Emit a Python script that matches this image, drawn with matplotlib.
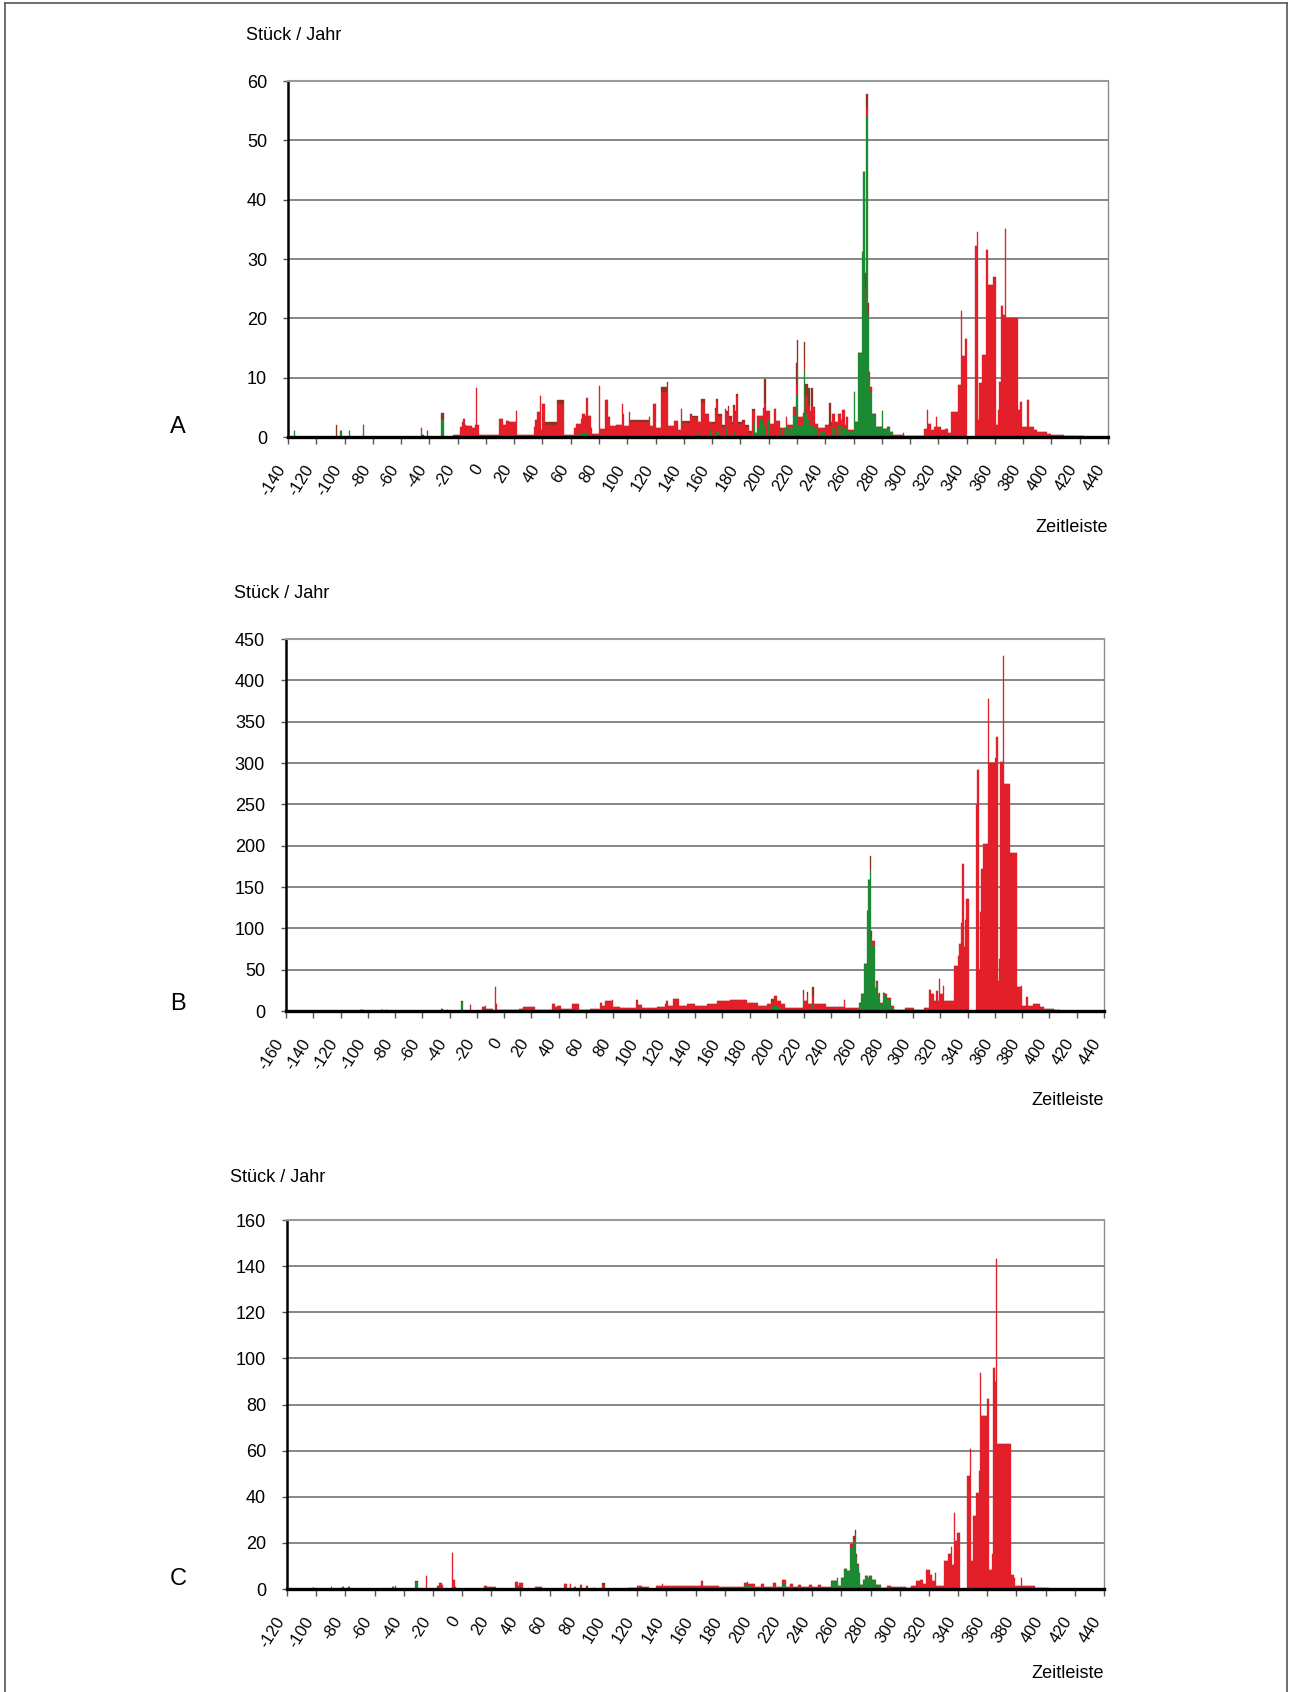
import numpy as np
import matplotlib
matplotlib.use('Agg')
import matplotlib.pyplot as plt
from matplotlib.transforms import ScaledTranslation
from matplotlib.lines import Line2D

plt.rcParams['font.family'] = ['Liberation Sans', 'DejaVu Sans']

# ---------------- data (year_start, year_end_exclusive, value) ----------------
# total height of stacked bar, green part (bottom), dark-red cap (top); red = rest
A_total = [(-136,-135,1),(-106,-105,2),(-103,-102,1),(-97,-96,1),(-87,-86,2),(-46,-45,1.5),(-45,-44,0.4),
 (-42,-41,1),(-32,-30,4),(-23,-18,0.3),(-18,-17,1.7),(-17,-16,2.5),(-16,-15,3.0),(-15,-14,2.1),(-14,-10,1.9),
 (-10,-8,1.5),(-8,-7,2.1),(-7,-6,8.2),(-6,-5,2.1),(-5,9,0.3),(9,12,3.0),(12,14,2.1),(14,16,2.7),(16,21,2.5),
 (21,22,4.3),(22,34,0.4),(34,35,1.7),(35,36,2.8),(36,38,4.2),(38,39,6.9),(39,40,1.1),(40,42,5.6),(42,50,2.6),
 (50,55,6.3),(55,62,0.3),(62,64,1.6),(64,67,2.2),(67,68,3.0),(68,70,3.9),(70,71,3.6),(71,72,6.5),(72,74,3.6),
 (74,75,1.6),(75,80,0.5),(80,81,8.6),(81,84,1.3),(84,86,6.2),(86,88,3.3),(88,92,1.9),(92,96,2.0),(96,97,5.5),
 (97,98,3.9),(98,101,1.9),(101,102,4.2),(102,115,2.8),(115,116,3.3),(116,118,1.9),(118,120,5.6),(120,124,1.6),
 (124,128,8.5),(128,129,9.3),(129,133,1.9),(133,136,2.7),(136,138,1.2),(138,139,4.7),(139,144,2.7),(144,146,3.9),
 (146,150,3.6),(150,152,2.5),(152,155,6.4),(155,158,3.9),(158,162,2.5),(162,163,4.9),(163,164,6.4),(164,167,3.9),
 (167,169,2.0),(169,170,4.7),(170,171,4.4),(171,172,5.3),(172,174,3.6),(174,175,2.5),(175,176,5.4),(176,177,4.4),
 (177,178,7.3),(178,181,2.5),(181,183,2.9),(183,186,2.0),(186,188,1.0),(188,190,4.7),(190,192,0.7),(192,196,3.5),
 (196,197,4.9),(197,198,9.8),(198,201,4.4),(201,204,2.2),(204,205,4.7),(205,208,2.7),(208,212,1.5),(212,213,3.4),
 (213,217,2.0),(217,219,5.0),(219,220,12.4),(220,221,16.4),(221,224,3.3),(224,225,4.0),(225,226,16.0),(226,228,9.0),
 (228,229,8.3),(229,230,4.4),(230,231,8.3),(231,233,5.1),(233,235,2.2),(235,240,1.6),(240,243,2.0),(243,244,5.8),
 (244,245,2.5),(245,247,3.9),(247,249,2.5),(249,251,3.9),(251,252,2.8),(252,254,4.5),(254,255,2.0),(255,256,3.4),
 (256,260,1.2),(260,261,7.6),(261,263,2.5),(263,266,14.2),(266,267,31.2),(267,268,44.6),(268,269,27.6),
 (269,270,57.8),(270,271,22.5),(271,272,11.0),(272,273,8.4),(273,276,3.9),(276,280,1.7),(280,281,4.3),
 (281,284,1.4),(284,286,1.7),(286,288,0.8),(288,295,0.3),(295,296,0.6),(296,310,0.2),(310,312,1.4),(312,313,4.5),
 (313,315,2.2),(315,317,1.1),(317,318,1.7),(318,319,3.4),(319,322,1.7),(322,325,1.1),(325,327,1.4),(327,329,0.6),
 (329,334,4.2),(334,336,8.7),(336,337,21.3),(337,339,13.6),(339,340,16.6),(346,347,32.2),(347,348,34.6),
 (348,349,2.8),(349,351,9.1),(351,354,13.8),(354,355,31.5),(355,359,25.6),(359,361,26.9),(361,362,2.0),
 (362,363,4.6),(363,364,9.3),(364,366,22.1),(366,367,20.6),(367,368,35.0),(368,376,20.0),(376,378,4.6),
 (378,379,5.9),(379,383,1.7),(383,384,6.2),(384,388,1.7),(388,390,1.1),(390,397,0.85),(397,400,0.56),
 (400,409,0.4),(409,423,0.2)]
A_green = [(-136,-135,1),(-103,-102,1),(-97,-96,1),(-87,-86,2),(-46,-45,1),(-42,-41,1),(-32,-30,3),
 (-15,-14,0.4),(65,70,0.6),(70,72,1.0),(102,116,0.25),(150,151,1),(158,160,1.2),(163,165,1),(170,171,1.5),
 (175,176,1),(189,191,2.5),(191,193,1.5),(193,196,3.0),(196,198,2),(199,201,3),(208,209,2),(211,213,2),
 (214,217,1.5),(217,219,3.5),(219,220,7),(220,221,11.3),(221,224,2.0),(224,225,3),(225,226,11.3),(226,228,4),
 (228,229,3),(229,232,2),(232,234,1.5),(236,240,1),(245,247,1.5),(249,251,2),(252,256,1.5),(256,259,1),
 (259,260,1),(260,261,7.5),(261,263,2.5),(263,266,14.2),(266,267,31.2),(267,268,44.6),(268,269,22),
 (269,270,54.2),(270,271,20.5),(271,272,9.5),(272,273,7.5),(273,276,3.9),(276,280,1.7),(280,281,4.3),
 (281,284,1.4),(284,286,1.7),(286,288,0.8)]
A_dark = [(-106,-105,2),(-32,-30,1),(42,50,0.6),(50,55,0.7),(102,115,0.3),(124,128,0.9),(128,129,0.4),
 (139,150,0.3),(152,155,0.5),(160,190,0.35),(197,198,4),(219,220,3.4),(220,221,4),(225,226,3.2),(226,228,2),
 (228,229,3),(230,231,3),(243,244,4),(268,269,2.6),(269,270,2.1),(270,271,2)]

B_total = [(-106,-103,1),(-90,-89,1.6),(-87,-86,1),(-46,-45,3),(-42,-41,1),(-32,-30,12),(-25,-24,7),(-16,-14,5),
 (-14,-13,6),(-13,-8,2),(-7,-6,29.5),(-6,-5,9),(-5,11,0.8),(11,13,3),(13,14,2),(14,17,5.3),(17,23,5),(23,35,1),
 (35,37,8),(37,39,5),(39,42,6.5),(42,50,2),(50,55,9),(55,63,1),(63,70,3),(70,72,10),(72,74,6),(74,79,12),
 (79,80,13),(80,85,5),(85,97,4),(97,98,13.5),(98,101,7),(101,112,4),(112,118,5),(118,119,9),(119,120,12.3),
 (120,124,6),(124,128,15),(128,134,6),(134,140,8),(140,149,6),(149,156,8),(156,166,12),(166,178,13),(178,186,10),
 (186,193,6),(193,196,9),(196,198,15),(198,200,18),(200,203,12),(203,206,8),(206,219,4),(219,220,25),(220,222,12),
 (222,223,23),(223,226,8),(226,227,29),(227,236,8),(236,249,5),(249,250,13),(250,260,4),(260,262,10),(262,264,20),
 (264,266,57),(266,267,121),(267,268,159),(268,269,187),(269,270,97),(270,272,85),(272,273,28),(273,274,36),
 (274,275,20),(275,276,22),(276,278,10),(278,279,22),(279,281,20),(281,284,16),(284,286,6),(286,294,1),
 (294,301,4),(301,308,1),(308,312,4),(312,313,26),(313,315,20),(315,317,12),(317,318,24),(318,319,12),
 (319,320,39),(320,322,20),(322,323,30),(323,330,12),(330,333,55),(333,334,67),(334,335,81),(335,336,106),
 (336,337,178),(337,338,77),(338,339,110),(339,341,135),(346,347,249),(347,348,292),(348,349,50),(349,350,120),
 (350,351,172),(351,355,202),(355,356,377),(356,360,300),(360,361,306),(361,362,332),(362,363,36),(363,364,63),
 (364,366,301),(366,367,430),(367,371,275),(371,376,191),(376,379,29),(379,380,30),(380,383,6),(383,384,17),
 (384,388,6),(388,393,8),(393,396,5),(396,403,2),(403,408,1)]
B_green = [(-90,-89,1.6),(-87,-86,1),(-42,-41,1),(-32,-30,11),(196,200,6),(200,203,5),(219,220,15),(222,223,12),
 (226,227,10),(236,249,1),(250,260,2),(260,262,10),(262,264,20),(264,266,57),(266,267,121),(267,268,159),
 (268,269,170),(269,270,90),(270,272,80),(272,273,25),(273,274,33),(274,275,18),(275,276,20),(276,278,9),
 (278,279,20),(279,281,18),(281,284,14),(284,286,4)]
B_dark = [(-32,-30,1),(196,198,4),(219,220,6),(222,223,6),(226,227,10),(268,269,17),(269,270,7)]

C_total = [(-103,-101,0.6),(-90,-89,0.7),(-82,-81,0.7),(-78,-77,0.9),(-48,-47,0.9),(-46,-45,1.3),(-32,-30,3.3),
 (-25,-24,5.5),(-17,-16,1.5),(-16,-14,2.8),(-14,-13,1.8),(-7,-6,15.5),(-6,-5,4),(-5,-4,0.7),(15,17,1.5),
 (17,23,0.9),(36,38,3),(38,39,1.2),(39,42,2.7),(50,55,0.9),(70,72,2),(74,75,2.2),(77,78,0.8),(81,82,1.6),
 (85,86,1.4),(90,91,0.6),(96,98,2.5),(114,120,0.6),(120,123,1.5),(123,128,0.75),(133,137,1.2),(137,138,2.2),
 (138,156,1.3),(156,164,1.2),(164,165,3.3),(165,176,1.2),(176,193,1.0),(193,195,2.6),(195,196,3),(196,199,2.3),
 (199,201,2),(201,205,0.8),(205,207,2.2),(207,213,0.8),(213,215,2.6),(215,219,1),(219,222,4),(222,225,1),
 (225,227,2.2),(227,230,1),(230,232,1.9),(232,238,0.8),(238,240,1.6),(240,244,0.8),(244,246,1.9),(246,253,1.0),
 (253,257,3.3),(257,258,4.8),(258,260,1.5),(260,262,4.8),(262,264,8.7),(264,266,7.7),(266,268,19.3),(268,269,23),
 (269,270,25.4),(270,271,15),(271,272,11),(272,273,7),(273,275,1.9),(275,276,4.1),(276,278,5.5),(278,279,4.8),
 (279,281,5.8),(281,284,4),(284,287,1.9),(287,291,0.3),(291,294,1.2),(294,304,0.7),(304,308,0.3),(308,311,1.2),
 (311,314,3.3),(314,316,4),(316,318,2),(318,321,8.4),(321,322,6.2),(322,324,3.3),(324,325,7),(325,330,1.2),
 (330,333,12),(333,335,15),(335,336,18),(336,337,10.6),(337,338,33),(338,339,20.7),(339,341,24.4),(346,348,49),
 (348,349,60.6),(349,350,12),(350,352,31.6),(352,354,41.8),(354,355,51),(355,356,93.7),(356,360,75),
 (360,361,82.4),(361,363,8.4),(363,364,15),(364,365,96),(365,366,89.6),(366,367,143),(367,376,62.8),
 (376,378,6.2),(378,379,4.8),(379,383,1.2),(383,384,4.8),(384,393,1.2),(393,402,0.4)]
C_green = [(-90,-89,0.7),(-82,-81,0.7),(-78,-77,0.9),(-48,-47,0.9),(-32,-30,3),(193,199,1.5),(213,215,1),
 (219,222,2),(225,227,1),(230,232,1),(238,240,0.8),(244,246,1),(253,257,3.3),(257,258,4.8),(258,260,1.5),
 (260,262,4.8),(262,264,8.7),(264,266,7.7),(266,268,18),(268,269,21),(269,270,23),(270,271,14),(271,272,10),
 (272,273,6.5),(273,275,1.9),(275,276,4.1),(276,278,5.5),(278,279,4.8),(279,281,5.8),(281,284,4),(284,287,1.9)]
C_dark = [(-32,-30,0.3),(96,98,0.8),(268,269,1.5),(269,270,2),(270,271,1)]

panel_letters = ['A', 'B', 'C']
x_ranges = [(-140, 440), (-160, 440), (-120, 440)]
y_max = [60, 450, 160]
y_step = [10, 50, 20]
y_label = 'Stück / Jahr'
x_label = 'Zeitleiste'

RED = '#E3202A'
GREEN = '#1C8A32'
DARK = '#8C3420'

W, H = 1292, 1692
fig = plt.figure(figsize=(W / 100, H / 100), dpi=100)
fig.patch.set_facecolor('white')

# outer frame (top, left, right)
fx0, fx1, fy0 = 5 / W, 1287 / W, 1 - 3 / H
for xs, ys in [((fx0, fx1), (fy0, fy0)), ((fx0, fx0), (0, fy0)), ((fx1, fx1), (0, fy0))]:
    fig.add_artist(Line2D(xs, ys, transform=fig.transFigure, color='#555555', linewidth=1.2))

boxes = [(288, 81, 1108, 437), (286, 639, 1104, 1011), (287, 1220, 1104, 1589)]
ylab_pos = [(246, 36), (234, 593), (230, 1177)]
letter_pos = [(178, 427), (178, 1004), (178, 1579)]
xlab_y = [528, 1100, 1673]


def expand(segs, years):
    arr = np.zeros(len(years))
    for s, e, v in segs:
        arr[(years >= s) & (years < e)] = v
    return arr


datasets = [(A_total, A_green, A_dark), (B_total, B_green, B_dark), (C_total, C_green, C_dark)]

for i in range(3):
    l, t, r, b = boxes[i]
    ax = fig.add_axes([l / W, 1 - b / H, (r - l) / W, (b - t) / H])
    x0, x1 = x_ranges[i]
    years = np.arange(x0, x1)
    tot_s, g_s, d_s = datasets[i]
    tot = expand(tot_s, years)
    g = np.minimum(expand(g_s, years), tot)
    d = np.minimum(expand(d_s, years), tot - g)
    rr = tot - g - d
    kw = dict(width=1.0, align='edge', linewidth=0.25)
    ax.bar(years, g, color=GREEN, edgecolor=GREEN, **kw)
    ax.bar(years, rr, bottom=g, color=RED, edgecolor=RED, **kw)
    ax.bar(years, d, bottom=g + rr, color=DARK, edgecolor=DARK, **kw)

    ax.set_xlim(x0, x1)
    ax.set_ylim(0, y_max[i])
    yt = np.arange(0, y_max[i] + 1, y_step[i])
    ax.set_yticks(yt)
    ax.set_yticklabels([str(v) for v in yt], fontsize=13)
    ax.yaxis.grid(True, color='#7d7d7d', linewidth=1.3)
    ax.set_axisbelow(True)
    xt = np.arange(x0, x1 + 1, 20)
    ax.set_xticks(xt)
    ax.set_xticklabels([str(v) for v in xt], fontsize=12, rotation=58, ha='right', va='center',
                       rotation_mode='anchor')
    ax.tick_params(axis='x', direction='out', length=5, width=1, color='#555555', pad=16)
    ax.tick_params(axis='y', direction='out', length=3.6, width=1, color='#555555', pad=11.5)
    off = ScaledTranslation(-6 / 100, 0, fig.dpi_scale_trans)
    for lab in ax.get_xticklabels():
        lab.set_transform(lab.get_transform() + off)
    ax.spines['left'].set_color('black')
    ax.spines['left'].set_linewidth(1.8)
    ax.spines['bottom'].set_color('black')
    ax.spines['bottom'].set_linewidth(2.4)
    ax.spines['top'].set_color('#9a9a9a')
    ax.spines['top'].set_linewidth(1.5)
    ax.spines['right'].set_color('#8a8a8a')
    ax.spines['right'].set_linewidth(1.0)
    ax.spines['bottom'].set_zorder(5)

    fig.text(ylab_pos[i][0] / W, 1 - ylab_pos[i][1] / H, y_label, fontsize=13, ha='left', va='center')
    fig.text(letter_pos[i][0] / W, 1 - letter_pos[i][1] / H, panel_letters[i], fontsize=17, ha='center',
             va='center')
    fig.text(r / W, 1 - xlab_y[i] / H, x_label, fontsize=13, ha='right', va='center')

fig.savefig('out.png', dpi=100, facecolor='white')
